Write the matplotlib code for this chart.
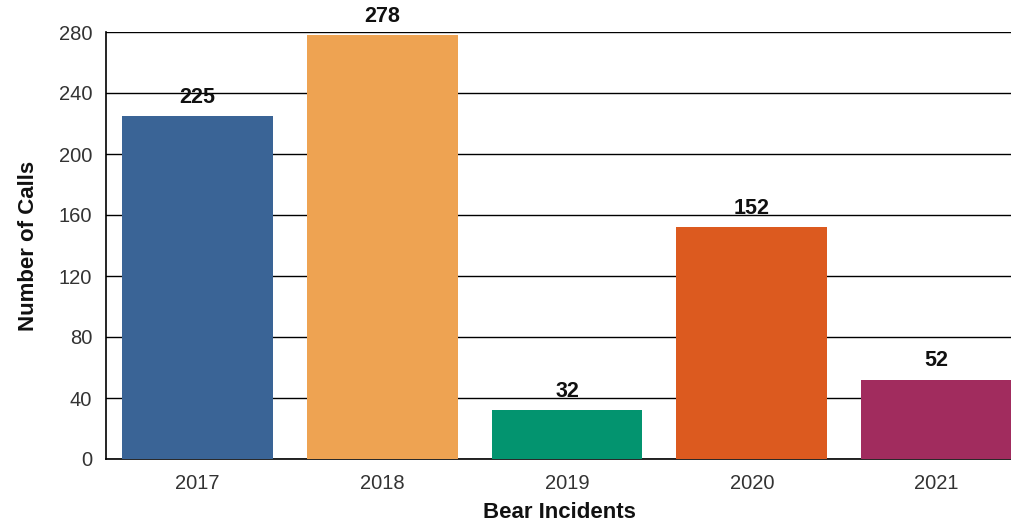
import matplotlib
matplotlib.use("Agg")
import matplotlib.pyplot as plt

years = ["2017", "2018", "2019", "2020", "2021"]
calls = [225, 278, 32, 152, 52]
colors = ["#3a6496", "#eea352", "#03946f", "#dc5a1f", "#a12c5e"]
yticks = [0, 40, 80, 120, 160, 200, 240, 280]

plt.rcParams["font.family"] = ["Liberation Sans", "DejaVu Sans"]

fig = plt.figure(figsize=(10.12, 5.26), dpi=100)
ax = fig.add_axes([106 / 1012, 1 - 459 / 526, 1 - 106 / 1012, (459 - 32) / 526])

x = list(range(len(years)))
bars = ax.bar(x, calls, width=0.816, color=colors, zorder=3)

for xi, v in zip(x, calls):
    ax.annotate(str(v), (xi, v), xytext=(0, 6), textcoords="offset points",
                ha="center", va="bottom", fontsize=15.5, fontweight="bold",
                color="#111111", zorder=4, annotation_clip=False)

ax.set_ylim(0, 280)
ax.set_xlim(-0.495, 4.408)
ax.set_yticks(yticks)
ax.set_xticks(x)
ax.set_xticklabels(years)
ax.yaxis.grid(True, color="black", linewidth=1.0, zorder=0)
ax.set_axisbelow(True)
ax.tick_params(axis="both", length=0, labelsize=14.5, colors="#333333")
ax.tick_params(axis="y", pad=10)
ax.tick_params(axis="x", pad=11)

for side in ("top", "right"):
    ax.spines[side].set_visible(False)
for side in ("left", "bottom"):
    ax.spines[side].set_color("black")
    ax.spines[side].set_linewidth(1.2)

ax.set_xlabel("Bear Incidents", fontsize=16, fontweight="bold", color="#111111", labelpad=6)
ax.set_ylabel("Number of Calls", fontsize=16, fontweight="bold", color="#111111", labelpad=14)

fig.savefig("out.png", dpi=100, facecolor="white")
